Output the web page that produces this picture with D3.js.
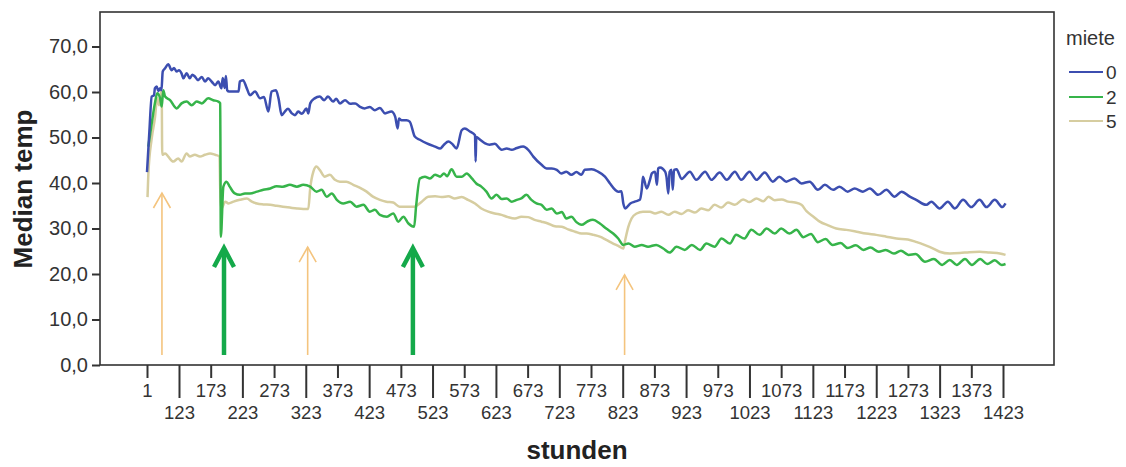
<!DOCTYPE html>
<html><head><meta charset="utf-8">
<script src="https://cdn.jsdelivr.net/npm/d3@7"></script>
<style>body{margin:0;background:#fff}svg{display:block}</style>
</head><body><svg id="c" width="1126" height="467"></svg>
<script>
const seriesNames = ["0","2","5"];
const yTicks = [0,10,20,30,40,50,60,70];
const xTickLabels = ["1","123","173","223","273","323","373","423","473","523","573","623","673","723","773","823","873","923","973","1023","1073","1123","1173","1223","1273","1323","1373","1423"];

const hours0 = [1,10,19,28,31,38,44,51,56,61,70,82,95,104,114,123,127,130,135,140,144,148,153,159,164,169,175,180,185,190,192,195,197,199,202,217,219,224,230,235,243,251,257,264,269,276,280,285,290,295,301,306,311,317,324,327,330,337,345,352,358,366,371,377,385,393,401,408,416,424,432,440,448,458,464,468,470,474,482,487,495,503,514,527,535,541,548,554,561,569,574,582,590,591,592,598,606,613,621,632,640,648,656,666,674,682,695,703,711,719,726,734,742,750,758,763,774,784,795,803,811,816,821,824,827,835,842,850,853,855,861,866,869,874,877,879,882,890,892,895,897,900,902,904,908,916,929,939,953,963,976,987,1000,1010,1023,1034,1047,1060,1070,1081,1094,1105,1118,1131,1142,1155,1165,1178,1189,1202,1213,1226,1239,1252,1263,1276,1286,1302,1310,1323,1336,1347,1360,1373,1386,1397,1410,1422,1427];
const temp0 = [42.4,51.3,59.0,59.3,60.8,61.2,60.2,60.8,60.4,64.5,65.2,66.1,64.8,65.3,64.5,64.8,64.1,63.0,64.1,63.0,63.8,63.4,62.6,63.3,62.3,63.0,62.2,61.5,62.3,60.8,63.1,60.9,63.5,60.4,60.1,60.1,62.3,62.6,60.8,59.3,60.1,58.6,58.9,55.7,60.1,60.4,58.6,54.9,55.7,56.3,55.3,54.9,55.7,55.2,56.4,55.3,57.5,58.6,59.0,58.2,59.0,57.9,58.5,57.5,58.2,57.4,57.5,56.8,56.4,56.7,56.0,56.5,55.3,55.7,54.6,52.0,54.2,53.8,53.8,53.5,50.2,49.5,48.7,48.0,47.6,48.4,49.1,48.6,47.6,51.6,52.0,51.3,50.5,44.7,50.1,49.5,48.7,48.4,48.6,47.3,47.6,47.3,47.7,48.0,47.3,45.8,44.0,43.2,43.2,42.9,42.1,42.5,41.8,42.4,41.8,42.9,43.0,42.5,41.4,39.9,38.5,38.1,38.2,35.5,34.4,35.5,35.9,36.3,38.5,41.4,38.8,40.7,42.1,42.5,39.6,43.2,43.4,42.5,41.4,37.7,42.4,42.9,38.5,42.9,43.0,40.9,42.5,40.7,42.5,40.7,42.3,40.7,42.5,40.7,42.5,40.7,42.3,40.3,41.4,40.3,41.0,39.9,40.3,38.5,39.6,38.5,39.2,38.1,38.8,38.1,38.8,37.4,38.5,37.0,38.1,37.0,36.3,35.2,35.9,34.4,35.9,34.4,36.3,34.7,36.3,34.7,36.3,34.7,35.5];

const hours2 = [6,19,31,40,51,57,63,70,89,114,127,135,143,151,159,169,177,185,188,189,193,198,203,211,219,227,235,246,256,267,277,287,298,309,319,330,340,348,356,364,372,382,393,403,414,424,432,440,451,461,469,477,485,494,497,503,511,519,527,535,541,546,553,561,569,577,585,592,600,608,616,624,632,640,648,656,663,671,679,687,695,703,711,719,727,734,742,750,758,768,776,787,797,808,816,824,832,842,853,863,876,887,897,908,921,932,945,955,968,979,992,1002,1015,1026,1039,1050,1063,1073,1086,1097,1108,1120,1131,1143,1154,1167,1178,1191,1203,1214,1227,1238,1251,1262,1274,1285,1300,1314,1327,1339,1350,1363,1374,1387,1398,1410,1421,1427];
const temp2 = [48.0,53.1,57.5,59.7,58.6,56.8,60.4,59.0,58.2,56.4,57.5,57.9,57.1,57.9,57.5,58.6,58.2,57.9,57.5,28.2,39.2,40.3,39.2,37.7,37.4,37.7,37.7,38.1,38.5,38.8,39.3,39.2,39.6,39.2,39.6,39.2,38.1,38.5,37.0,37.7,36.3,35.5,35.9,34.8,35.2,33.7,34.1,33.0,32.6,33.3,31.5,32.6,31.1,30.4,34.8,41.0,41.4,41.0,41.8,41.4,42.1,41.5,43.0,41.4,41.4,42.1,41.0,39.9,39.2,38.1,36.6,37.4,36.5,36.6,35.9,36.3,36.6,37.4,36.3,35.5,35.2,34.1,34.4,33.3,33.6,32.2,32.6,31.4,30.8,31.6,31.9,31.1,30.0,28.9,27.8,26.4,26.7,26.0,26.4,26.0,26.4,25.6,24.7,26.0,25.3,26.4,25.3,26.7,26.0,27.8,26.7,28.6,27.8,29.7,28.6,30.0,28.9,30.0,28.9,29.7,28.1,28.8,27.0,27.7,26.4,26.8,25.7,26.3,25.3,25.8,24.9,25.3,24.5,25.1,24.2,24.4,22.7,23.3,22.0,23.1,22.0,23.3,22.0,23.3,22.2,23.0,22.0,22.2];

const hours5 = [3,6,19,31,40,47,53,57,59,70,82,101,120,127,135,140,148,156,164,172,180,187,188,190,196,201,209,219,230,238,246,256,267,277,287,298,309,319,327,330,335,340,345,353,361,369,377,387,398,408,419,429,440,450,461,471,485,494,506,516,527,537,548,558,569,579,590,600,611,621,632,642,653,663,674,684,695,705,716,727,737,748,758,766,777,787,797,808,816,824,827,832,837,845,855,866,874,884,895,905,916,926,937,947,958,968,979,989,1000,1013,1023,1034,1045,1053,1063,1074,1084,1095,1105,1113,1124,1134,1147,1160,1176,1192,1207,1223,1239,1255,1273,1287,1299,1313,1323,1339,1355,1370,1386,1402,1418,1427];
const temp5 = [36.9,41.8,49.8,54.2,58.6,57.1,59.3,60.4,46.2,46.5,45.8,44.7,45.4,44.7,46.5,45.8,46.2,45.8,46.2,46.5,46.2,45.8,38.8,34.4,35.9,35.5,35.9,36.3,36.6,35.9,35.5,35.3,35.2,35.0,34.8,34.6,34.4,34.3,34.3,38.8,42.5,43.6,42.9,41.4,41.8,40.7,40.3,40.3,39.6,39.0,38.1,37.0,36.3,35.9,35.7,34.8,34.8,34.8,35.9,37.0,37.1,36.9,37.1,36.6,36.9,36.3,35.5,34.4,33.7,33.3,33.0,32.5,32.2,32.6,32.5,31.9,31.5,31.1,30.5,30.4,29.8,29.3,28.9,28.9,28.6,28.2,27.5,26.7,26.2,25.6,27.5,30.4,32.2,33.3,33.7,33.7,33.3,33.7,33.0,33.7,33.2,34.0,33.5,34.4,34.0,35.2,34.6,35.7,35.2,36.4,35.8,36.6,36.0,37.0,36.2,36.4,35.9,35.7,35.2,33.8,32.6,31.5,30.7,30.0,29.7,29.3,28.9,28.6,28.2,27.8,27.6,27.0,26.4,25.6,24.9,24.5,24.6,24.8,24.9,24.7,24.5,24.2];

// annotation arrows (hour position, tip value, base value, type)
const arrowHours = [58,194,326,492,826];
const arrowTips = [37.8,25.7,25.9,25.7,19.8];
const arrowBase = 2.2;
const arrowKinds = ["5","2","5","2","5"];

const colors = {"0":"#3c4eb0","2":"#36b44a","5":"#d6cda0"};
const arrowColors = {"5":"#f4c47e","2":"#14a94a"};

const svg = d3.select("#c");
const x = d3.scaleLinear().domain([1,123,1423]).range([147,179,1003]);
const y = d3.scaleLinear().domain([0,70]).range([365,46.5]);
const frame = {left:100, right:1054, top:12, bottom:365};
const font = "'Liberation Sans', Arial, sans-serif";

// frame
svg.append("rect").attr("x",frame.left).attr("y",frame.top)
  .attr("width",frame.right-frame.left).attr("height",frame.bottom-frame.top)
  .attr("fill","none").attr("stroke","#333").attr("stroke-width",1.6);

// y axis
const yAxis = d3.axisLeft(y).tickValues(yTicks).tickSize(8).tickPadding(4)
  .tickFormat(d => d.toFixed(1).replace(".", ","));
const gy = svg.append("g").attr("transform",`translate(${frame.left},0)`).call(yAxis);
gy.select(".domain").remove();
gy.selectAll(".tick line").attr("stroke","#333").attr("stroke-width",2);
gy.selectAll(".tick text").attr("font-family",font).attr("font-size",20).attr("fill","#333");

// x axis
const xAxis = d3.axisBottom(x).tickValues(xTickLabels.map(Number)).tickSize(0).tickFormat("");
const gx = svg.append("g").attr("transform",`translate(0,${frame.bottom})`).call(xAxis);
gx.select(".domain").remove();
gx.selectAll(".tick").each(function(d,i){
  const g = d3.select(this);
  const low = i % 2 === 1;
  g.append("line").attr("y1",0).attr("y2",low?33:13).attr("stroke","#333").attr("stroke-width",2);
  g.append("text").attr("y",low?54:32).attr("text-anchor","middle")
    .attr("font-family",font).attr("font-size",18.5).attr("fill","#333").text(xTickLabels[i]);
});

// lines
const line = d3.line().x(d=>x(d[0])).y(d=>y(d[1])).curve(d3.curveMonotoneX);
const series = [
  {name:"5", h:hours5, t:temp5},
  {name:"2", h:hours2, t:temp2},
  {name:"0", h:hours0, t:temp0}
];
series.forEach(s=>{
  const pts = s.h.map((h,i)=>[h,s.t[i]]);
  svg.append("path").datum(pts).attr("d",line).attr("fill","none")
    .attr("stroke",colors[s.name]).attr("stroke-width",2.5).attr("stroke-linejoin","round");
});

// arrows
arrowHours.forEach((h,i)=>{
  const k = arrowKinds[i];
  const ax = x(h), yt = y(arrowTips[i]), yb = y(arrowBase);
  const thick = k === "2";
  const w = thick ? 4.5 : 1.6, hw = thick ? 10 : 8.5, hh = thick ? 19 : 15;
  svg.append("line").attr("x1",ax).attr("x2",ax).attr("y1",yb).attr("y2",yt+ (thick?2:0))
    .attr("stroke",arrowColors[k]).attr("stroke-width",w);
  svg.append("path").attr("d",`M${ax-hw},${yt+hh}L${ax},${yt}L${ax+hw},${yt+hh}`)
    .attr("fill","none").attr("stroke",arrowColors[k]).attr("stroke-width",w)
    .attr("stroke-linejoin","miter");
});

// axis titles
svg.append("text").attr("x",577).attr("y",459).attr("text-anchor","middle")
  .attr("font-family",font).attr("font-weight","bold").attr("font-size",26).attr("fill","#222").text("stunden");
svg.append("text").attr("transform","translate(32,189) rotate(-90)").attr("text-anchor","middle")
  .attr("font-family",font).attr("font-weight","bold").attr("font-size",26).attr("fill","#222").text("Median temp");

// legend
svg.append("text").attr("x",1066).attr("y",45).attr("font-family",font).attr("font-size",20).attr("fill","#333").text("miete");
const legY = [72,97,121];
seriesNames.forEach((n,i)=>{
  svg.append("line").attr("x1",1069).attr("x2",1103).attr("y1",legY[i]).attr("y2",legY[i])
    .attr("stroke",colors[n]).attr("stroke-width",2);
  svg.append("text").attr("x",1106).attr("y",legY[i]+7).attr("font-family",font).attr("font-size",19)
    .attr("fill","#333").text(n);
});
</script></body></html>
